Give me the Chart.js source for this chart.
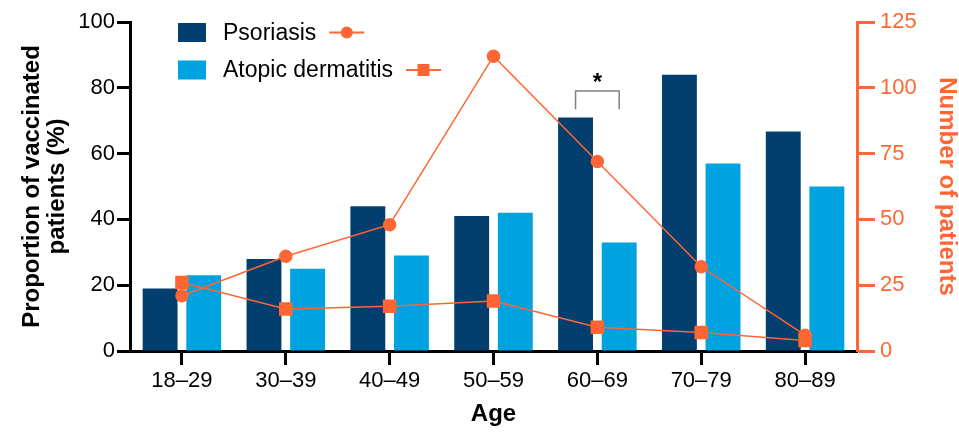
<!DOCTYPE html>
<html>
<head>
<meta charset="utf-8">
<script src="https://cdn.jsdelivr.net/npm/chart.js@4/dist/chart.umd.min.js"></script>
<style>
  html, body { margin: 0; padding: 0; background: #fff; }
  #wrap { width: 959px; height: 434px; }
</style>
</head>
<body>
<div id="wrap"><canvas id="ageChart"></canvas></div>
<script>
// data
const ageGroups = ["18–29", "30–39", "40–49", "50–59", "60–69", "70–79", "80–89"];
const psoriasisVaccinated = [19, 28, 44, 41, 71, 84, 66.7];   // %
const atopicVaccinated = [23, 25, 29, 42, 33, 57, 50];        // %
const psoriasisPatients = [21, 36, 48, 112, 72, 32, 6];       // n
const atopicPatients = [26, 16, 17, 19, 9, 7, 4];             // n
const leftTicks = [0, 20, 40, 60, 80, 100];
const rightTicks = [0, 25, 50, 75, 100, 125];

// significance bracket over 60–69 (left axis units)
const sigIndex = 4;
const sigTop = 79;
const sigBottom = 73.5;

const navy = "#023f6f";
const sky = "#00a3e0";
const orange = "#ff6633";
const fontFam = "'Liberation Sans', Arial, Helvetica, sans-serif";

// legend drawn like the original: bar swatch, label, then line marker
const comboLegend = {
  id: "comboLegend",
  afterDraw(chart) {
    const ctx = chart.ctx;
    const ds = chart.data.datasets;
    const rows = [
      {bar: ds[0], line: ds[2], y: 32.5},
      {bar: ds[1], line: ds[3], y: 70}
    ];
    ctx.save();
    ctx.font = "23px " + fontFam;
    ctx.textBaseline = "middle";
    rows.forEach(r => {
      ctx.fillStyle = r.bar.backgroundColor;
      ctx.fillRect(178, r.y - 9.5, 28, 19);
      ctx.fillStyle = "#000";
      ctx.fillText(r.bar.label, 223, r.y + 1);
      const x0 = 223 + ctx.measureText(r.bar.label).width + 13;
      ctx.strokeStyle = orange;
      ctx.lineWidth = 2;
      ctx.beginPath();
      ctx.moveTo(x0, r.y);
      ctx.lineTo(x0 + 35, r.y);
      ctx.stroke();
      ctx.fillStyle = orange;
      if (r.line.pointStyle === "rect") {
        ctx.fillRect(x0 + 17.5 - 6, r.y - 6, 12, 12);
      } else {
        ctx.beginPath();
        ctx.arc(x0 + 17.5, r.y, 6, 0, Math.PI * 2);
        ctx.fill();
      }
    });
    ctx.restore();
  }
};

const sigBracket = {
  id: "sigBracket",
  afterDatasetsDraw(chart) {
    const ctx = chart.ctx;
    const y = chart.scales.y;
    const xa = chart.getDatasetMeta(0).data[sigIndex].x;
    const xb = chart.getDatasetMeta(1).data[sigIndex].x;
    const yt = y.getPixelForValue(sigTop);
    const yb = y.getPixelForValue(sigBottom);
    ctx.save();
    ctx.strokeStyle = "#808080";
    ctx.lineWidth = 1.5;
    ctx.beginPath();
    ctx.moveTo(xa, yb);
    ctx.lineTo(xa, yt);
    ctx.lineTo(xb, yt);
    ctx.lineTo(xb, yb);
    ctx.stroke();
    ctx.fillStyle = "#000";
    ctx.font = "bold 24px " + fontFam;
    ctx.textAlign = "center";
    ctx.textBaseline = "alphabetic";
    ctx.fillText("*", (xa + xb) / 2, yt - 1);
    ctx.restore();
  }
};

const ctx = document.getElementById("ageChart").getContext("2d");
new Chart(ctx, {
  data: {
    labels: ageGroups,
    datasets: [
      {
        type: "bar", label: "Psoriasis", data: psoriasisVaccinated,
        backgroundColor: navy, yAxisID: "y", order: 2,
        categoryPercentage: 0.84, barPercentage: 0.8
      },
      {
        type: "bar", label: "Atopic dermatitis", data: atopicVaccinated,
        backgroundColor: sky, yAxisID: "y", order: 2,
        categoryPercentage: 0.84, barPercentage: 0.8
      },
      {
        type: "line", label: "Psoriasis (n)", data: psoriasisPatients,
        borderColor: orange, backgroundColor: orange, borderWidth: 1.5,
        pointStyle: "circle", pointRadius: 6, yAxisID: "y2", order: 1
      },
      {
        type: "line", label: "Atopic dermatitis (n)", data: atopicPatients,
        borderColor: orange, backgroundColor: orange, borderWidth: 1.5,
        pointStyle: "rect", pointRadius: 8.5, yAxisID: "y2", order: 0
      }
    ]
  },
  options: {
    responsive: true,
    maintainAspectRatio: false,
    animation: false,
    layout: { padding: { top: 22, left: 0, right: 0, bottom: 0 } },
    plugins: {
      legend: { display: false },
      tooltip: { enabled: false }
    },
    scales: {
      x: {
        grid: {
          offset: false, drawOnChartArea: false, drawTicks: true,
          tickLength: 14, tickWidth: 3, tickColor: "#000"
        },
        border: { color: "#000", width: 3 },
        ticks: { color: "#000", padding: 3, font: { family: fontFam, size: 22 } },
        title: {
          display: true, text: "Age", color: "#000",
          font: { family: fontFam, size: 24, weight: "bold" },
          padding: { top: 0, bottom: 5 }
        },
        afterFit: s => { s.height = 83; }
      },
      y: {
        position: "left", min: 0, max: 100,
        afterBuildTicks: s => { s.ticks = leftTicks.map(v => ({value: v})); },
        grid: {
          drawOnChartArea: false, drawTicks: true,
          tickLength: 13, tickWidth: 3, tickColor: "#000"
        },
        border: { color: "#000", width: 3 },
        ticks: { color: "#000", padding: 2, font: { family: fontFam, size: 22 } },
        title: {
          display: true, text: ["Proportion of vaccinated", "patients (%)"], color: "#000",
          font: { family: fontFam, size: 24, weight: "bold", lineHeight: 1.04 },
          padding: { top: 19.5, bottom: 0 }
        },
        afterFit: s => { s.width = 130; }
      },
      y2: {
        position: "right", min: 0, max: 125,
        afterBuildTicks: s => { s.ticks = rightTicks.map(v => ({value: v})); },
        grid: {
          drawOnChartArea: false, drawTicks: true,
          tickLength: 18, tickWidth: 3, tickColor: orange
        },
        border: { color: orange, width: 3 },
        ticks: { color: orange, padding: 5, font: { family: fontFam, size: 22 } },
        title: {
          display: true, text: "Number of patients", color: orange,
          font: { family: fontFam, size: 24, weight: "bold", lineHeight: 1 },
          padding: { top: 0, bottom: 0 }
        },
        afterFit: s => { s.width = 102; }
      }
    }
  },
  plugins: [comboLegend, sigBracket]
});
</script>
</body>
</html>
